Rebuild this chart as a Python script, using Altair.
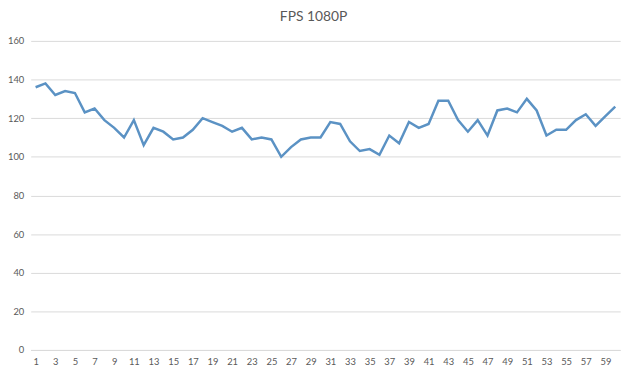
import altair as alt
import pandas as pd

frames = list(range(1, 61))
fps = [136, 138, 132, 134, 133, 123, 125, 119, 115, 110,
       119, 106, 115, 113, 109, 110, 114, 120, 118, 116,
       113, 115, 109, 110, 109, 100, 105, 109, 110, 110,
       118, 117, 108, 103, 104, 101, 111, 107, 118, 115,
       117, 129, 129, 119, 113, 119, 111, 124, 125, 123,
       130, 124, 111, 114, 114, 119, 122, 116, 121, 126]
x_labels = list(range(1, 60, 2))
y_ticks = list(range(0, 161, 20))

df = pd.DataFrame({"frame": frames, "fps": fps})

chart = alt.Chart(df).mark_line(color="#5b92c4", strokeWidth=2.5).encode(
    x=alt.X("frame:O", title=None,
            scale=alt.Scale(padding=0.5),
            axis=alt.Axis(values=x_labels, labelAngle=0, ticks=False,
                          domainColor="#d9d9d9", labelColor="#595959",
                          labelFont="Lato", labelFontSize=9.5, labelPadding=7,
                          grid=False)),
    y=alt.Y("fps:Q", title=None,
            scale=alt.Scale(domain=[0, 160], nice=False),
            axis=alt.Axis(values=y_ticks, ticks=False, domain=False,
                          gridColor="#d9d9d9", labelColor="#595959",
                          labelFont="Lato", labelFontSize=9.5, labelPadding=7)),
).properties(
    width=597, height=313,
    title=alt.TitleParams("FPS 1080P", font="Lato", fontSize=14, fontWeight="normal",
                          color="#595959", anchor="middle", dx=-12, offset=12.5),
    autosize=alt.AutoSizeParams(type="none"),
    padding={"left": 23, "top": 31, "right": 12, "bottom": 20},
).configure_view(stroke=None)

chart.save("out.html", embed_options={"renderer": "svg", "actions": False})
